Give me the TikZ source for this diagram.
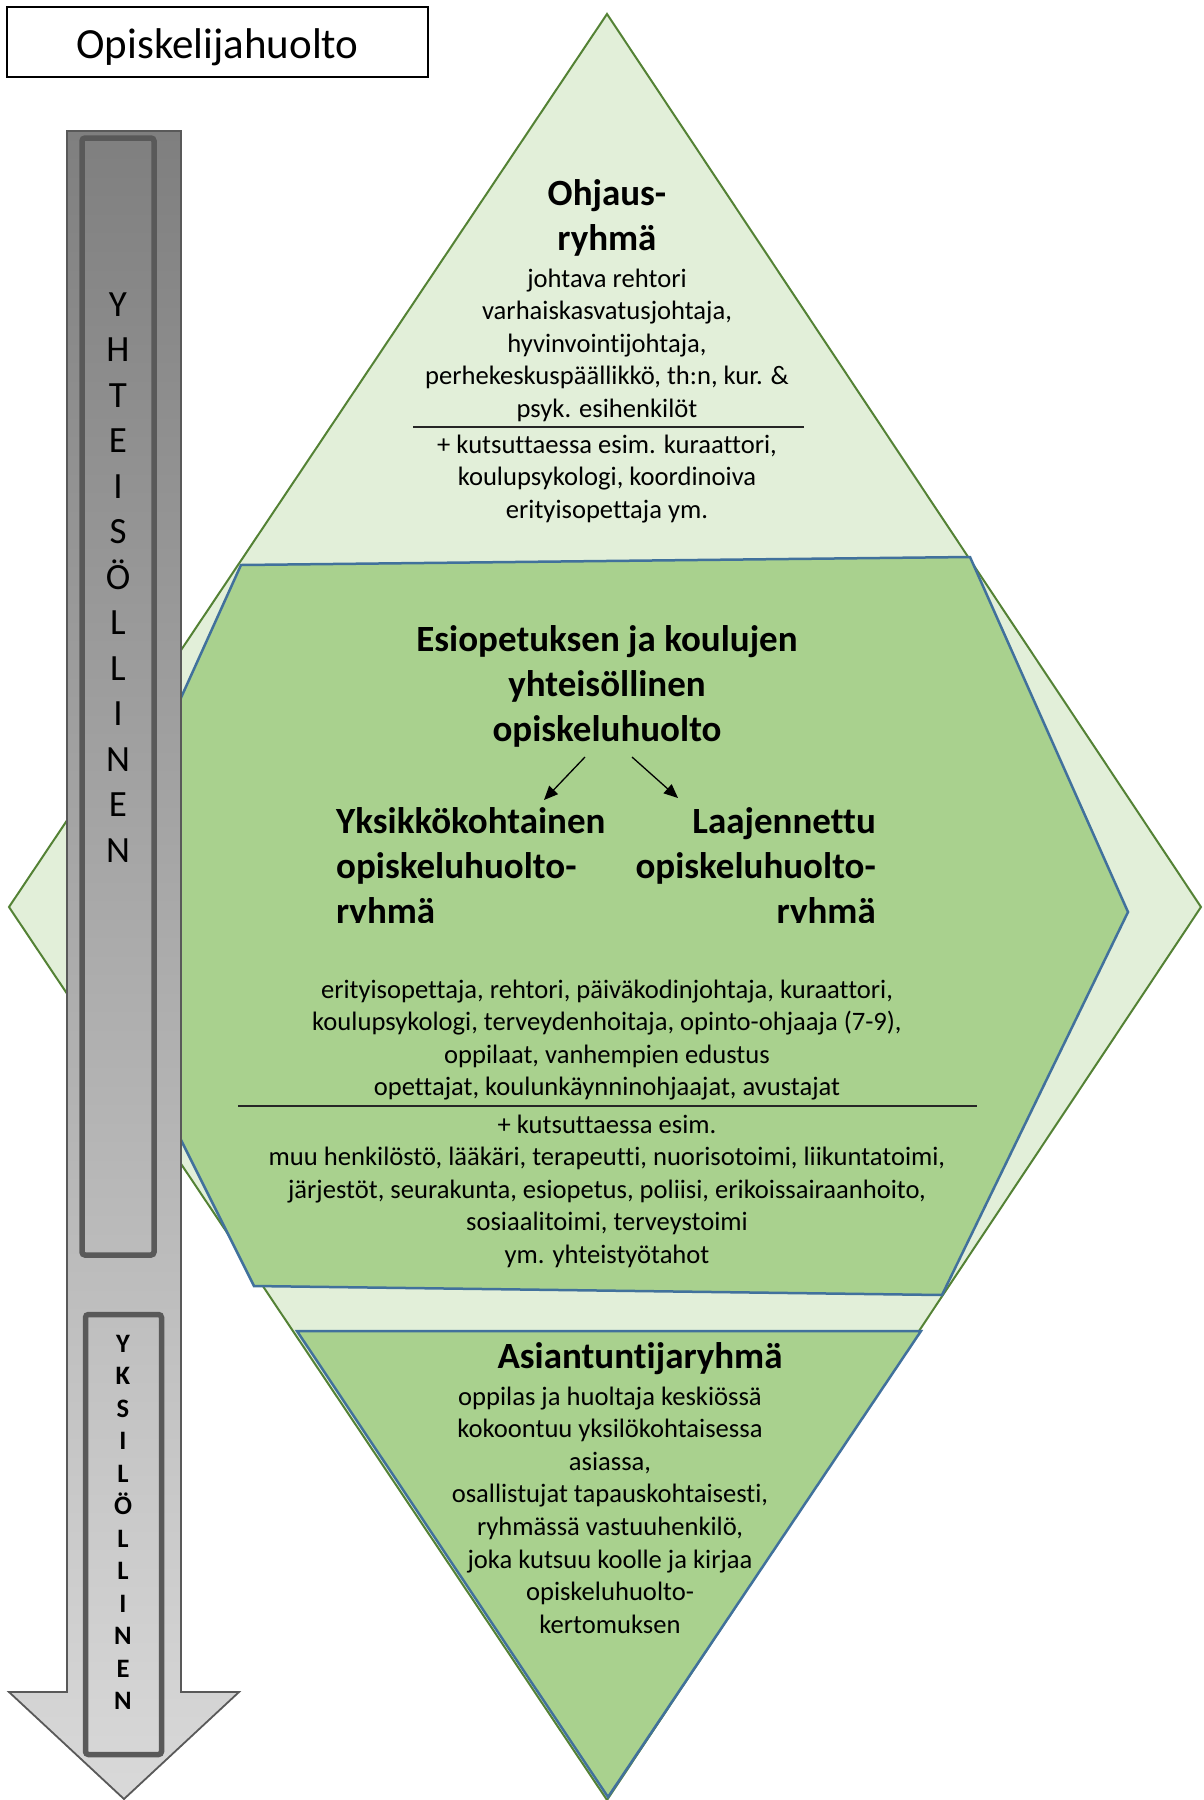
\documentclass[tikz,border=0pt]{standalone}
\usepackage{fontspec}
\setmainfont{Carlito}[Ligatures={NoCommon,NoRequired,NoContextual,NoRare},Contextuals={NoAlternate}]
\usetikzlibrary{arrows.meta}
\definecolor{lightg}{HTML}{E2EFD9}
\definecolor{midg}{HTML}{A9D18E}
\definecolor{darkg}{HTML}{548235}
\definecolor{blueo}{HTML}{41719C}
\definecolor{grayo}{HTML}{595959}
\definecolor{arrtop}{HTML}{7F7F7F}
\definecolor{arrbot}{HTML}{D9D9D9}
\begin{document}
\begin{tikzpicture}[x=1pt,y=-1pt,
  body/.style={font=\fontsize{26.6}{32.6}\selectfont, anchor=base, inner sep=0pt},
  head/.style={font=\fontsize{37}{45}\selectfont\bfseries, anchor=base, inner sep=0pt},
  vletter/.style={font=\fontsize{37}{45}\selectfont, anchor=base, inner sep=0pt},
  vletterb/.style={font=\fontsize{26.6}{32.6}\selectfont\bfseries, anchor=base, inner sep=0pt},
  sepline/.style={draw=black!85, line width=1.3pt},
  conn/.style={draw=black, line width=1.3pt, -{Triangle[length=14pt,width=12pt]}},
  framebox/.style={draw=grayo, line width=5.5pt, rounded corners=3pt}
]
\useasboundingbox (0,0) rectangle (1203,1800);

% diamond
\filldraw[fill=lightg, draw=darkg, line width=2pt] (607,14) -- (1201,907) -- (607,1800) -- (9,907) -- cycle;
% hexagon
\filldraw[fill=midg, draw=blueo, line width=2.5pt] (241,565) -- (970,557) -- (1128,912) -- (942,1295) -- (254,1286) -- (76,930) -- cycle;
% bottom triangle
\filldraw[fill=midg, draw=blueo, line width=2.5pt] (297,1331) -- (921,1331) -- (608,1797) -- cycle;

% title
\node[draw=black, line width=1.2pt, minimum width=421pt, minimum height=70pt, inner sep=0pt,
      text height=32pt, text depth=0pt, font=\fontsize{43}{50}\selectfont] (title) at (217.5,42) {Opiskelijahuolto};

% left arrow
\shade[top color=arrtop, bottom color=arrbot] (67,131) -- (181,131) -- (181,1692) -- (239,1692) -- (124,1800) -- (9,1692) -- (67,1692) -- cycle;
\draw[grayo, line width=1.8pt] (67,131) -- (181,131) -- (181,1692) -- (239,1692) -- (124,1799) -- (9,1692) -- (67,1692) -- cycle;
\draw[framebox] (82,138) rectangle (154,1255);
\draw[framebox] (85.5,1314.5) rectangle (161.5,1754.5);
\foreach \c [count=\i] in {Y,H,T,E,I,S,Ö,L,L,I,N,E,N}
  \node[vletter] (yh\i) at (118,{316+45.5*(\i-1)}) {\c};
\foreach \c [count=\i] in {Y,K,S,I,L,Ö,L,L,I,N,E,N}
  \node[vletterb] (yk\i) at (123,{1352+32.5*(\i-1)}) {\c};

% top block
\node[head] (oh1) at (607,205) {Ohjaus-};
\node[head] (oh2) at (607,250) {ryhmä};
\foreach \t [count=\i] in {{johtava rehtori},{varhaiskasvatusjohtaja,},{hyvinvointijohtaja,},{perhekeskuspäällikkö, th:n, kur. \&},{psyk. esihenkilöt}}
  \node[body] (ob\i) at (607,{287+32.6*(\i-1)}) {\t};
\coordinate (osl) at (413,427);
\coordinate (osr) at (804,427);
\draw[sepline] (osl) -- (osr);
\foreach \t [count=\i] in {{+ kutsuttaessa esim. kuraattori,},{koulupsykologi, koordinoiva},{erityisopettaja ym.}}
  \node[body] (oc\i) at (607,{453+32.6*(\i-1)}) {\t};

% hexagon block
\node[head] (eh1) at (607,651) {Esiopetuksen ja koulujen};
\node[head] (eh2) at (607,696) {yhteisöllinen};
\node[head] (eh3) at (607,741) {opiskeluhuolto};
\coordinate (a1s) at (585,757);
\coordinate (a1e) at (544,800);
\coordinate (a2s) at (632,757);
\coordinate (a2e) at (678,798);
\draw[conn] (a1s) -- (a1e);
\draw[conn] (a2s) -- (a2e);
\begin{scope}
  \clip (300,780) rectangle (900,922);
  \node[head, anchor=base west] (yk-a) at (336,833) {Yksikkökohtainen};
  \node[head, anchor=base west] (yk-b) at (336,878) {opiskeluhuolto-};
  \node[head, anchor=base west] (yk-c) at (336,923) {ryhmä};
  \node[head, anchor=base east] (la-a) at (876,833) {Laajennettu};
  \node[head, anchor=base east] (la-b) at (876,878) {opiskeluhuolto-};
  \node[head, anchor=base east] (la-c) at (876,923) {ryhmä};
\end{scope}
\foreach \t [count=\i] in {{erityisopettaja, rehtori, päiväkodinjohtaja, kuraattori,},{koulupsykologi, terveydenhoitaja, opinto-ohjaaja (7-9),},{oppilaat, vanhempien edustus},{opettajat, koulunkäynninohjaajat, avustajat}}
  \node[body] (hb\i) at (607,{998+32.6*(\i-1)}) {\t};
\coordinate (hsl) at (238,1106);
\coordinate (hsr) at (977,1106);
\draw[sepline] (hsl) -- (hsr);
\foreach \t [count=\i] in {{+ kutsuttaessa esim.},{muu henkilöstö, lääkäri, terapeutti, nuorisotoimi, liikuntatoimi,},{järjestöt, seurakunta, esiopetus, poliisi, erikoissairaanhoito,},{sosiaalitoimi, terveystoimi},{ym. yhteistyötahot}}
  \node[body] (hc\i) at (607,{1133+32.6*(\i-1)}) {\t};

% bottom block
\node[head] (ah) at (640,1368) {Asiantuntijaryhmä};
\foreach \t [count=\i] in {{oppilas ja huoltaja keskiössä},{kokoontuu yksilökohtaisessa},{asiassa,},{osallistujat tapauskohtaisesti,},{ryhmässä vastuuhenkilö,},{joka kutsuu koolle ja kirjaa},{opiskeluhuolto-},{kertomuksen}}
  \node[body] (ab\i) at (610,{1405+32.6*(\i-1)}) {\t};
\end{tikzpicture}
\end{document}
